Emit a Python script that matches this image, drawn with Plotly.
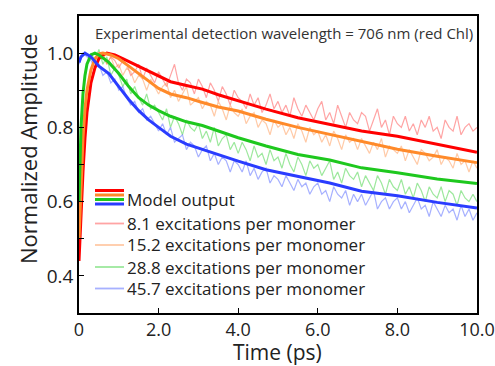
import plotly.graph_objects as go

# ---------------- data ----------------
legend_labels = ["Model output",
                 "8.1 excitations per monomer",
                 "15.2 excitations per monomer",
                 "28.8 excitations per monomer",
                 "45.7 excitations per monomer"]

# model output (thick lines)
t_red = [0, 0.05, 0.1, 0.15, 0.2, 0.3, 0.4, 0.5, 0.6, 0.7, 0.9, 1.1, 1.4, 1.7, 2.0, 2.3, 2.7, 3.1, 3.5, 4.0,
         4.7, 5.5, 6.3, 7.1, 8.0, 9.0, 10.0]
m_red = [0.44, 0.57, 0.68, 0.77, 0.84, 0.92, 0.96, 0.985, 0.995, 1.0, 0.995, 0.985, 0.97, 0.955, 0.94, 0.923,
         0.913, 0.903, 0.888, 0.871, 0.849, 0.826, 0.808, 0.79, 0.776, 0.754, 0.733]

t_orange = [0, 0.05, 0.1, 0.15, 0.2, 0.3, 0.4, 0.5, 0.6, 0.8, 1.0, 1.25, 1.5, 1.75, 2.0, 2.3, 2.7, 3.1, 3.5,
            4.0, 4.7, 5.5, 6.3, 7.1, 8.0, 9.0, 10.0]
m_orange = [0.50, 0.65, 0.77, 0.85, 0.90, 0.955, 0.985, 0.998, 1.0, 0.995, 0.985, 0.965, 0.945, 0.925, 0.905,
            0.89, 0.88, 0.867, 0.855, 0.844, 0.822, 0.80, 0.781, 0.763, 0.741, 0.722, 0.705]

t_green = [0, 0.05, 0.1, 0.15, 0.2, 0.3, 0.4, 0.5, 0.75, 1.0, 1.25, 1.5, 1.75, 2.0, 2.3, 2.7, 3.1, 3.5, 4.0,
           4.7, 5.5, 6.3, 7.1, 8.0, 9.0, 10.0]
m_green = [0.60, 0.80, 0.89, 0.94, 0.97, 0.995, 1.0, 0.995, 0.975, 0.945, 0.91, 0.88, 0.86, 0.845, 0.83,
           0.815, 0.805, 0.79, 0.772, 0.75, 0.727, 0.712, 0.691, 0.678, 0.661, 0.649]

t_blue = [0, 0.05, 0.15, 0.3, 0.5, 0.75, 1.0, 1.25, 1.5, 1.75, 2.0, 2.3, 2.7, 3.1, 3.5, 4.0, 4.7, 5.5, 6.3,
          7.1, 8.0, 9.0, 10.0]
m_blue = [0.975, 0.99, 1.0, 0.99, 0.965, 0.945, 0.91, 0.875, 0.845, 0.82, 0.80, 0.776, 0.755, 0.741, 0.725,
          0.709, 0.686, 0.668, 0.65, 0.628, 0.616, 0.598, 0.583]

# experimental data (thin lines), sampled every 0.1 ps from 0 to 10 ps
t_exp = [i / 10 for i in range(101)]
e_red = [0.46, 0.70, 0.86, 0.93, 0.96, 0.99, 1.00, 0.97, 0.99, 0.98,
         0.96, 0.98, 0.97, 0.94, 0.95, 0.97, 0.93, 0.96, 0.94, 0.92,
         0.95, 0.93, 0.91, 0.94, 0.97, 0.92, 0.90, 0.93, 0.92, 0.89,
         0.93, 0.91, 0.88, 0.92, 0.90, 0.87, 0.91, 0.89, 0.86, 0.90,
         0.88, 0.87, 0.85, 0.89, 0.86, 0.88, 0.84, 0.86, 0.89, 0.85,
         0.87, 0.84, 0.86, 0.83, 0.88, 0.85, 0.83, 0.86, 0.84, 0.82,
         0.85, 0.87, 0.82, 0.84, 0.81, 0.86, 0.83, 0.80, 0.84, 0.82,
         0.81, 0.84, 0.83, 0.79, 0.82, 0.85, 0.80, 0.82, 0.78, 0.83,
         0.81, 0.80, 0.83, 0.79, 0.81, 0.78, 0.82, 0.80, 0.83, 0.79,
         0.80, 0.77, 0.82, 0.80, 0.79, 0.83, 0.78, 0.80, 0.81, 0.79,
         0.80]
e_orange = [0.52, 0.76, 0.89, 0.95, 0.98, 0.99, 1.00, 0.97, 0.99, 0.96,
            0.97, 0.94, 0.96, 0.95, 0.92, 0.94, 0.93, 0.90, 0.93, 0.91,
            0.89, 0.91, 0.92, 0.88, 0.90, 0.87, 0.89, 0.91, 0.86, 0.87,
            0.88, 0.85, 0.87, 0.86, 0.83, 0.87, 0.85, 0.82, 0.86, 0.84,
            0.83, 0.85, 0.81, 0.83, 0.84, 0.80, 0.82, 0.81, 0.78, 0.82,
            0.80, 0.81, 0.78, 0.80, 0.77, 0.81, 0.79, 0.76, 0.80, 0.78,
            0.79, 0.76, 0.78, 0.75, 0.79, 0.77, 0.74, 0.78, 0.76, 0.77,
            0.74, 0.77, 0.75, 0.73, 0.76, 0.74, 0.77, 0.72, 0.75, 0.74,
            0.73, 0.75, 0.71, 0.74, 0.72, 0.70, 0.74, 0.73, 0.71, 0.72,
            0.74, 0.70, 0.72, 0.71, 0.69, 0.73, 0.70, 0.71, 0.68, 0.71,
            0.69]
e_green = [0.62, 0.90, 0.97, 1.00, 0.98, 1.01, 0.97, 0.99, 0.94, 0.96,
           0.94, 0.91, 0.93, 0.89, 0.91, 0.88, 0.86, 0.89, 0.85, 0.86,
           0.84, 0.82, 0.85, 0.80, 0.83, 0.81, 0.78, 0.82, 0.80, 0.79,
           0.81, 0.77, 0.79, 0.76, 0.80, 0.75, 0.77, 0.78, 0.74, 0.76,
           0.73, 0.76, 0.74, 0.71, 0.75, 0.72, 0.73, 0.70, 0.74, 0.71,
           0.72, 0.69, 0.73, 0.70, 0.68, 0.72, 0.70, 0.67, 0.71, 0.69,
           0.70, 0.67, 0.69, 0.71, 0.66, 0.68, 0.65, 0.69, 0.67, 0.66,
           0.68, 0.64, 0.67, 0.65, 0.63, 0.67, 0.65, 0.62, 0.66, 0.64,
           0.63, 0.66, 0.62, 0.64, 0.61, 0.65, 0.63, 0.60, 0.64, 0.62,
           0.61, 0.64, 0.60, 0.63, 0.62, 0.59, 0.63, 0.61, 0.60, 0.62,
           0.60]
e_blue = [0.97, 1.00, 0.99, 0.98, 0.96, 0.97, 0.94, 0.95, 0.92, 0.93,
          0.90, 0.91, 0.88, 0.86, 0.87, 0.84, 0.85, 0.82, 0.83, 0.81,
          0.79, 0.81, 0.78, 0.80, 0.76, 0.77, 0.78, 0.74, 0.76, 0.75,
          0.72, 0.74, 0.75, 0.71, 0.73, 0.70, 0.72, 0.71, 0.68, 0.71,
          0.70, 0.68, 0.71, 0.67, 0.69, 0.66, 0.68, 0.69, 0.65, 0.67,
          0.66, 0.64, 0.67, 0.65, 0.63, 0.66, 0.64, 0.65, 0.62, 0.64,
          0.65, 0.62, 0.63, 0.60, 0.64, 0.62, 0.61, 0.63, 0.59, 0.62,
          0.60, 0.62, 0.59, 0.61, 0.63, 0.58, 0.60, 0.61, 0.58, 0.60,
          0.61, 0.58, 0.60, 0.57, 0.59, 0.61, 0.58, 0.59, 0.56, 0.60,
          0.58, 0.56, 0.59, 0.57, 0.58, 0.55, 0.59, 0.56, 0.58, 0.55,
          0.57]

x_tickvals = [0, 2, 4, 6, 8, 10]
x_ticktext = ["0", "2.0", "4.0", "6.0", "8.0", "10.0"]
y_tickvals = [0.4, 0.5, 0.6, 0.7, 0.8, 0.9, 1.0]
y_ticktext = ["0.4", "", "0.6", "", "0.8", "", "1.0"]
x_title = "Time (ps)"
y_title = "Normalized Amplitude"
header = "Experimental detection wavelength = 706 nm (red Chl)"

# ---------------- styles ----------------
strong = ["#ff0000", "#ff8a2a", "#1ec81e", "#2a3cff"]
light = ["rgba(255,90,90,0.55)", "rgba(255,150,80,0.5)", "rgba(60,210,60,0.5)", "rgba(80,100,255,0.5)"]
FONT = "Open Sans"

fig = go.Figure()
exp_series = [e_red, e_orange, e_green, e_blue]
for ys, c in zip(exp_series, light):
    fig.add_trace(go.Scatter(x=t_exp, y=ys, mode="lines", line=dict(color=c, width=1.2),
                             showlegend=False, hoverinfo="skip"))
model_series = [(t_red, m_red), (t_orange, m_orange), (t_green, m_green), (t_blue, m_blue)]
for (xs, ys), c in zip(model_series, strong):
    fig.add_trace(go.Scatter(x=xs, y=ys, mode="lines", line=dict(color=c, width=3),
                             showlegend=False, hoverinfo="skip"))

# ---------------- custom legend & texts ----------------
L, W, T, H = 79, 398, 16, 297
def px2paper(px, py):
    return (px - L) / W, (T + H - py) / H

shapes = []
for py, c in zip([190.5, 195, 199.5, 204], strong):
    x0, y0 = px2paper(95, py)
    x1, _ = px2paper(124, py)
    shapes.append(dict(type="line", xref="paper", yref="paper", x0=x0, x1=x1, y0=y0, y1=y0,
                       line=dict(color=c, width=3)))
row_py = [223.5, 245, 267, 288.5]
for py, c in zip(row_py, light):
    x0, y0 = px2paper(95, py)
    x1, _ = px2paper(124, py)
    shapes.append(dict(type="line", xref="paper", yref="paper", x0=x0, x1=x1, y0=y0, y1=y0,
                       line=dict(color=c, width=1.8)))

annotations = []
for py, txt in zip([199] + row_py, legend_labels):
    x, y = px2paper(125, py)
    annotations.append(dict(xref="paper", yref="paper", x=x, y=y, xanchor="left", yanchor="middle",
                            text=txt, showarrow=False, font=dict(family=FONT, size=17, color="#222")))
x, y = px2paper(284, 33)
annotations.append(dict(xref="paper", yref="paper", x=x, y=y, xanchor="center", yanchor="middle",
                        text=header, showarrow=False, font=dict(family=FONT, size=15, color="#333")))
x, y = px2paper(277, 352)
annotations.append(dict(xref="paper", yref="paper", x=x, y=y, xanchor="center", yanchor="middle",
                        text=x_title, showarrow=False, borderpad=0,
                        font=dict(family=FONT, size=21, color="#222")))
x, y = px2paper(28, 149)
annotations.append(dict(xref="paper", yref="paper", x=x, y=y, xanchor="center", yanchor="middle",
                        text=y_title, textangle=-90, showarrow=False,
                        font=dict(family=FONT, size=22, color="#222")))

fig.update_layout(
    width=495, height=366,
    margin=dict(l=79, r=18, t=16, b=53, autoexpand=False),
    paper_bgcolor="white", plot_bgcolor="white",
    shapes=shapes, annotations=annotations,
    font=dict(family=FONT, color="#222"),
)
fig.update_xaxes(range=[0, 10.001], tickvals=x_tickvals, ticktext=x_ticktext, ticks="inside", ticklen=5,
                 tickcolor="black", showline=True, linecolor="black", linewidth=1.5, mirror=True,
                 showgrid=False, zeroline=False, automargin=False, ticklabeloverflow="allow",
                 tickfont=dict(size=18, family=FONT, color="#222"))
fig.update_yaxes(range=[0.3, 1.1], tickvals=y_tickvals, ticktext=y_ticktext, ticks="inside", ticklen=5,
                 tickcolor="black", showline=True, linecolor="black", linewidth=1.5, mirror=True,
                 showgrid=False, zeroline=False, automargin=False,
                 tickfont=dict(size=19, family=FONT, color="#222"))

fig.write_html("out.html")
